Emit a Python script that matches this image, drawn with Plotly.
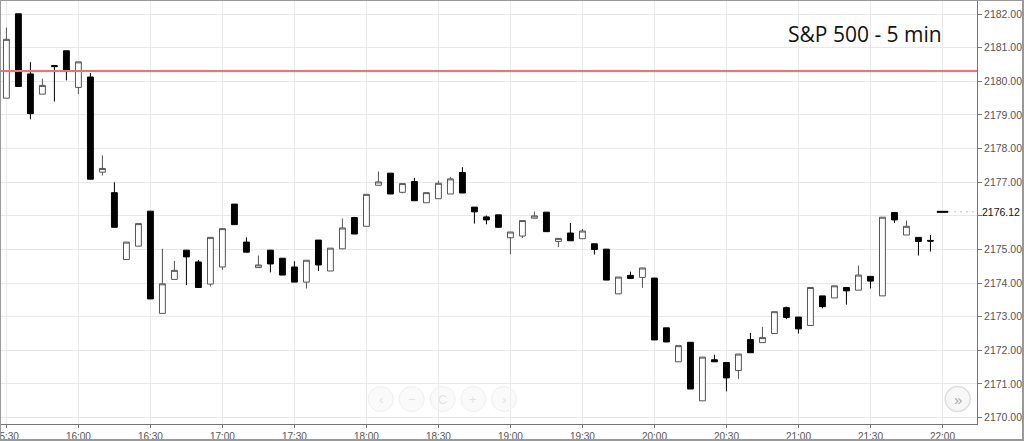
import plotly.graph_objects as go

DAY = "2016-08-22 "
times = ["15:30","15:35","15:40","15:45","15:50","15:55",
         "16:00","16:05","16:10","16:15","16:20","16:25",
         "16:30","16:35","16:40","16:45","16:50","16:55",
         "17:00","17:05","17:10","17:15","17:20","17:25",
         "17:30","17:35","17:40","17:45","17:50","17:55",
         "18:00","18:05","18:10","18:15","18:20","18:25",
         "18:30","18:35","18:40","18:45","18:50","18:55",
         "19:00","19:05","19:10","19:15","19:20","19:25",
         "19:30","19:35","19:40","19:45","19:50","19:55",
         "20:00","20:05","20:10","20:15","20:20","20:25",
         "20:30","20:35","20:40","20:45","20:50","20:55",
         "21:00","21:05","21:10","21:15","21:20","21:25",
         "21:30","21:35","21:40","21:45","21:50","21:55",
         "22:00"]

opens = [2179.50,2182.01,2180.22,2179.62,2180.47,2180.91,
         2179.82,2180.13,2177.30,2176.69,2174.70,2175.10,
         2176.14,2173.10,2174.11,2174.98,2174.63,2173.97,
         2174.48,2176.35,2175.22,2174.46,2174.98,2174.74,
         2174.48,2174.03,2175.28,2174.36,2175.02,2175.95,
         2175.69,2176.91,2177.27,2176.70,2177.02,2176.39,
         2176.51,2176.65,2177.29,2176.26,2175.97,2176.03,
         2175.35,2175.40,2175.93,2176.11,2175.24,2175.49,
         2175.32,2175.17,2175.01,2173.68,2174.23,2174.17,
         2174.15,2172.67,2171.66,2172.24,2170.50,2171.72,
         2171.64,2171.40,2172.32,2172.23,2172.50,2173.27,
         2172.99,2172.74,2173.62,2173.56,2173.87,2173.79,
         2174.20,2173.62,2176.10,2175.43,2175.36,2175.27,
         2176.12]
highs = [2181.60,2182.01,2180.57,2180.08,2180.49,2180.91,
         2180.58,2180.25,2177.80,2177.00,2175.22,2175.77,
         2176.14,2175.02,2174.66,2174.98,2174.69,2175.36,
         2175.62,2176.35,2175.36,2174.82,2174.98,2174.74,
         2174.65,2174.68,2175.28,2175.04,2175.92,2175.97,
         2176.64,2177.32,2177.27,2176.96,2177.13,2176.69,
         2177.05,2177.16,2177.45,2176.26,2176.01,2176.03,
         2175.52,2175.86,2176.13,2176.11,2175.33,2175.79,
         2175.61,2175.17,2175.01,2174.18,2174.34,2174.45,
         2174.15,2172.67,2172.14,2172.24,2171.80,2171.87,
         2171.64,2171.89,2172.52,2172.70,2173.15,2173.30,
         2172.99,2173.87,2173.62,2173.92,2173.87,2174.52,
         2174.20,2175.96,2176.10,2175.86,2175.36,2175.43,
         2176.12]
lows = [2179.50,2179.85,2178.87,2179.62,2179.40,2180.03,
        2179.62,2177.09,2177.20,2175.66,2174.70,2175.10,
        2173.53,2173.10,2174.11,2173.94,2173.87,2173.90,
        2174.39,2175.74,2174.92,2174.46,2174.32,2174.24,
        2174.03,2173.84,2174.36,2174.36,2175.02,2175.46,
        2175.69,2176.91,2176.65,2176.67,2176.45,2176.39,
        2176.51,2176.65,2176.68,2175.77,2175.75,2175.66,
        2174.86,2175.34,2175.93,2175.53,2175.07,2175.26,
        2175.32,2174.85,2174.09,2173.68,2174.14,2173.86,
        2172.31,2172.25,2171.66,2170.85,2170.50,2171.66,
        2170.78,2171.15,2171.93,2172.23,2172.50,2172.93,
        2172.50,2172.74,2173.25,2173.56,2173.36,2173.79,
        2173.84,2173.62,2175.79,2175.43,2174.82,2174.94,
        2176.12]
closes = [2181.25,2179.85,2179.04,2179.88,2180.44,2180.33,
          2180.58,2177.09,2177.41,2175.66,2175.22,2175.77,
          2173.53,2173.98,2174.38,2174.78,2173.87,2175.36,
          2175.62,2175.74,2174.92,2174.54,2174.57,2174.24,
          2174.03,2174.68,2174.54,2175.04,2175.64,2175.46,
          2176.64,2177.01,2176.65,2176.96,2176.45,2176.69,
          2176.97,2177.10,2176.68,2176.12,2175.88,2175.66,
          2175.52,2175.86,2176.00,2175.53,2175.33,2175.26,
          2175.55,2175.00,2174.09,2174.18,2174.14,2174.45,
          2172.31,2172.25,2172.14,2170.85,2171.80,2171.66,
          2171.18,2171.89,2171.93,2172.38,2173.15,2172.98,
          2172.64,2173.87,2173.30,2173.92,2173.77,2174.24,
          2174.06,2175.96,2175.88,2175.69,2175.24,2175.25,
          2176.12]

ref_level = 2180.31
last_price = 2176.12
x_range = [DAY + "15:27:20", DAY + "22:14:24"]
y_range = [2169.81, 2182.42]
y_ticks = [2170, 2171, 2172, 2173, 2174, 2175, 2176, 2177, 2178, 2179, 2180, 2181, 2182]
y_ticktext = ["2170.00", "2171.00", "2172.00", "2173.00", "2174.00", "2175.00", "",
              "2177.00", "2178.00", "2179.00", "2180.00", "2181.00", "2182.00"]
title_text = "S&P 500 - 5 min"
nav_labels = ["‹", "−", "C", "+", "›"]

xs = [DAY + t for t in times]

fig = go.Figure()

# dotted last-price line
fig.add_trace(go.Scatter(
    x=[xs[-1], x_range[1]], y=[last_price, last_price], mode="lines",
    line=dict(color="#777777", width=1, dash="1px,5px"), hoverinfo="skip", showlegend=False))

fig.add_trace(go.Candlestick(
    x=xs, open=opens, high=highs, low=lows, close=closes,
    increasing=dict(line=dict(color="#555555", width=1), fillcolor="#ffffff"),
    decreasing=dict(line=dict(color="#000000", width=1), fillcolor="#000000"),
    whiskerwidth=0, showlegend=False, hoverinfo="skip"))

# current (flat) bar drawn as a short dash
fig.add_trace(go.Scatter(
    x=[xs[-1]], y=[closes[-1]], mode="markers",
    marker=dict(symbol="line-ew", size=8, line=dict(color="#000000", width=2)),
    hoverinfo="skip", showlegend=False))

W, H = 1024, 441
ml, mr, mt, mb = 0, 47, 0, 17
pw, ph = W - ml - mr, H - mt - mb

shapes = [
    dict(type="line", xref="paper", yref="y", x0=0, x1=1, y0=ref_level, y1=ref_level,
         line=dict(color="#ff6b6b", width=2), layer="above"),
    dict(type="rect", xref="paper", yref="paper", x0=0, x1=(W - 1) / pw,
         y0=-(mb - 1) / ph, y1=1, line=dict(color="#999999", width=2), layer="above"),
]
annotations = [
    dict(text=title_text, xref="paper", yref="paper", x=865 / pw, y=1 - 34 / ph,
         xanchor="center", yanchor="middle", showarrow=False,
         font=dict(family="Open Sans", size=21, color="#111111")),
    dict(text=f"{last_price:.2f}", xref="paper", yref="y", x=1, y=last_price,
         xanchor="left", yanchor="middle", xshift=3, showarrow=False,
         font=dict(family="Liberation Sans", size=10.5, color="#111111")),
]

nav_x = [380.7, 411.7, 442.7, 473.3, 504.0]
for px_, lab in zip(nav_x, nav_labels):
    shapes.append(dict(type="circle", xref="paper", yref="paper",
                       xsizemode="pixel", ysizemode="pixel",
                       xanchor=px_ / pw, yanchor=(ph - 399) / ph,
                       x0=-12.5, x1=12.5, y0=-12.5, y1=12.5,
                       line=dict(color="#eeeeee", width=1), fillcolor="rgba(245,245,245,0.5)",
                       layer="above"))
    annotations.append(dict(text=lab, xref="paper", yref="paper", x=px_ / pw,
                            y=(ph - 399) / ph, showarrow=False, xanchor="center",
                            yanchor="middle",
                            font=dict(family="Liberation Sans", size=13, color="#e2e2e2")))
shapes.append(dict(type="circle", xref="paper", yref="paper",
                   xsizemode="pixel", ysizemode="pixel",
                   xanchor=957.7 / pw, yanchor=(ph - 399) / ph,
                   x0=-12.5, x1=12.5, y0=-12.5, y1=12.5,
                   line=dict(color="#dddddd", width=1.5), fillcolor="#f7f7f7", layer="above"))
annotations.append(dict(text="»", xref="paper", yref="paper", x=957.7 / pw,
                        y=(ph - 399) / ph, showarrow=False, xanchor="center", yanchor="middle",
                        font=dict(family="Liberation Sans", size=15, color="#aaaaaa")))

fig.update_layout(
    width=W, height=H, margin=dict(l=ml, r=mr, t=mt, b=mb, autoexpand=False),
    paper_bgcolor="white", plot_bgcolor="white",
    showlegend=False, hovermode=False,
    shapes=shapes, annotations=annotations,
    xaxis=dict(
        type="date", range=x_range, rangeslider=dict(visible=False),
        tick0=DAY + "16:00", dtick=1800000, tickformat="%H:%M",
        ticklabeloverflow="allow", automargin=False,
        showgrid=True, gridcolor="#e8e8e8", gridwidth=1,
        showline=True, linecolor="#777777", linewidth=1,
        ticks="outside", ticklen=3, tickcolor="#777777",
        tickfont=dict(family="Liberation Sans", size=10, color="#555555"),
        zeroline=False, fixedrange=True),
    yaxis=dict(
        side="right", range=y_range, tickmode="array",
        tickvals=y_ticks, ticktext=y_ticktext, automargin=False,
        showgrid=True, gridcolor="#e8e8e8", gridwidth=1,
        showline=True, linecolor="#777777", linewidth=1,
        ticks="outside", ticklen=4, tickcolor="#777777",
        tickfont=dict(family="Liberation Sans", size=10.5, color="#555555"),
        zeroline=False, fixedrange=True),
)

fig.write_html("out.html", config=dict(displayModeBar=False))
